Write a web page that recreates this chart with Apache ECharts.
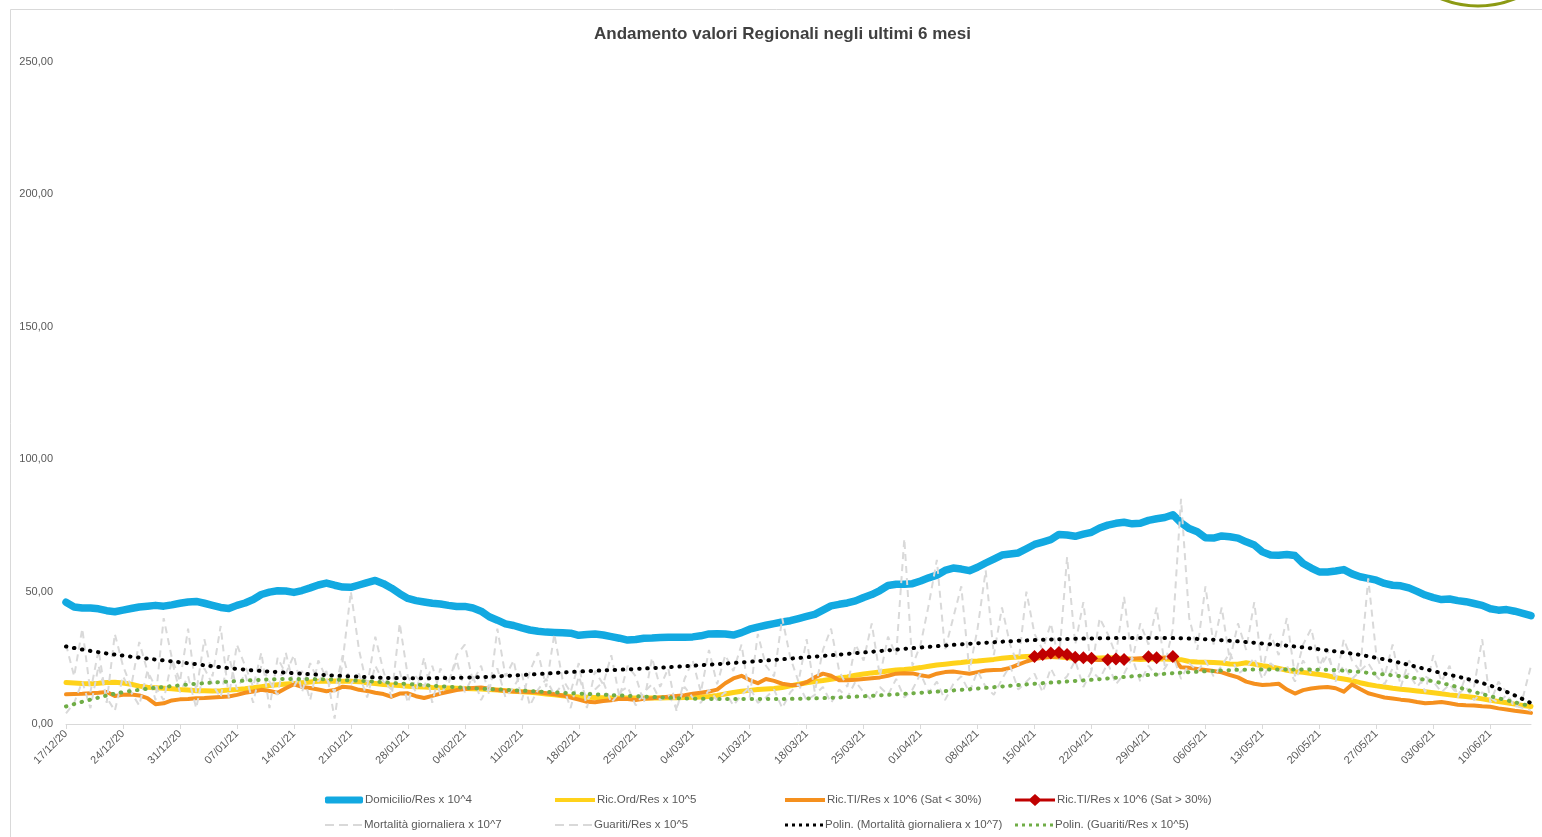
<!DOCTYPE html>
<html>
<head>
<meta charset="utf-8">
<title>Andamento valori Regionali negli ultimi 6 mesi</title>
<script src="https://cdn.jsdelivr.net/npm/echarts@6.0.0/dist/echarts.min.js"></script>
<style>
  html, body { margin: 0; padding: 0; background: #fff; }
  #chart { width: 1542px; height: 837px; }
</style>
</head>
<body>
<div id="chart"></div>
<script>
// giorni: dal 17/12/20, 181 giorni consecutivi
const startDate = new Date(2020, 11, 17)
const dayCount = 181
const days = []
for (let i = 0; i < dayCount; i++) {
  const d = new Date(startDate.getFullYear(), startDate.getMonth(), startDate.getDate() + i)
  const dd = String(d.getDate()).padStart(2, '0')
  const mm = String(d.getMonth() + 1).padStart(2, '0')
  const yy = String(d.getFullYear()).slice(2)
  days.push(dd + '/' + mm + '/' + yy)
}

const yTicks = [0, 50, 100, 150, 200, 250]

const domicilio = [
  46.0, 44.2, 43.8, 43.8, 43.5, 42.8, 42.4, 43.0, 43.6, 44.2,
  44.5, 44.8, 44.5, 45.0, 45.6, 46.1, 46.3, 45.6, 44.8, 44.0,
  43.6, 44.8, 45.7, 47.0, 48.9, 49.8, 50.3, 50.2, 49.7, 50.4,
  51.4, 52.5, 53.2, 52.4, 51.7, 51.6, 52.5, 53.4, 54.2, 53.0,
  51.3, 49.2, 47.4, 46.6, 46.1, 45.6, 45.3, 44.8, 44.4, 44.4,
  43.8, 42.6, 40.5, 39.2, 37.8, 37.2, 36.3, 35.5, 35.0, 34.7,
  34.6, 34.5, 34.3, 33.5, 33.8, 34.0, 33.6, 33.0, 32.4, 31.7,
  31.9, 32.4, 32.5, 32.7, 32.8, 32.8, 32.8, 32.9, 33.3, 34.0,
  34.1, 34.0, 33.6, 34.5, 35.8, 36.6, 37.3, 37.9, 38.5, 39.0,
  39.8, 40.6, 41.4, 43.0, 44.6, 45.2, 45.7, 46.5, 47.8, 48.9,
  50.4, 52.3, 52.8, 52.8, 53.0, 54.0, 55.2, 56.2, 58.0, 58.9,
  58.5, 57.9, 59.2, 60.8, 62.3, 63.8, 64.2, 64.6, 66.2, 67.8,
  68.7, 69.6, 71.6, 71.4, 70.9, 71.7, 72.4, 74.0, 75.1, 75.8,
  76.2, 75.6, 75.8, 76.9, 77.5, 78.0, 79.0, 76.0, 73.8, 72.6,
  70.3, 70.2, 71.0, 70.7, 70.2, 68.8, 67.6, 65.0, 63.8, 63.7,
  64.0, 63.6, 60.6, 58.9, 57.4, 57.4, 57.8, 58.3, 56.7, 55.6,
  55.0, 54.3, 53.1, 52.4, 52.2, 51.4, 50.1, 48.7, 47.7, 47.0,
  47.2, 46.6, 46.2, 45.5, 44.8, 43.5, 43.0, 43.2, 42.6, 41.8,
  40.9
]

const ricOrd = [
  15.7, 15.5, 15.3, 15.2, 15.4, 15.7, 15.8, 15.5, 15.0, 14.3,
  13.9, 13.7, 13.5, 13.3, 13.0, 12.8, 12.6, 12.6, 12.5, 12.6,
  12.8, 13.0, 13.3, 13.7, 14.1, 14.5, 14.8, 15.1, 15.3, 15.6,
  15.9, 16.1, 16.1, 16.2, 16.1, 16.1, 16.0, 15.6, 15.3, 14.9,
  14.7, 14.5, 14.3, 14.1, 14.0, 13.8, 13.7, 13.6, 13.5, 13.4,
  13.3, 13.2, 13.0, 12.8, 12.6, 12.4, 12.2, 12.0, 11.7, 11.3,
  11.0, 10.7, 10.4, 10.2, 10.1, 10.0, 9.9, 9.8, 9.8, 9.8,
  9.8, 9.8, 9.8, 9.8, 9.9, 9.9, 10.0, 10.1, 10.2, 10.4,
  10.8, 11.3, 11.9, 12.4, 12.7, 13.0, 13.2, 13.4, 13.8, 14.4,
  15.0, 15.6, 16.0, 16.4, 16.9, 17.4, 17.8, 18.4, 18.9, 19.3,
  19.6, 20.0, 20.4, 20.6, 20.9, 21.3, 21.8, 22.3, 22.6, 22.9,
  23.2, 23.6, 23.8, 24.1, 24.4, 24.8, 25.1, 25.3, 25.5, 25.6,
  25.6, 25.5, 25.3, 25.0, 24.8, 24.7, 24.8, 24.9, 25.0, 24.9,
  24.7, 24.5, 24.4, 24.5, 24.6, 24.5, 24.4, 24.3, 23.6, 23.4,
  23.3, 23.2, 23.0, 22.7, 22.6, 23.1, 22.6, 22.0, 21.6, 21.0,
  20.3, 19.8, 19.5, 19.1, 18.7, 18.2, 17.5, 17.0, 16.4, 15.6,
  14.9, 14.4, 14.0, 13.5, 13.1, 12.8, 12.5, 12.2, 11.8, 11.4,
  11.0, 10.7, 10.4, 10.0, 9.5, 9.0, 8.5, 8.0, 7.5, 7.0,
  6.6
]

const ricTiLow = [
  11.2, 11.3, 11.4, 11.6, 11.8, 12.1, 10.6, 11.0, 11.1, 10.8,
  9.8, 7.5, 7.8, 8.9, 9.3, 9.4, 9.7, 9.8, 10.0, 10.2,
  10.4, 11.0, 11.8, 12.3, 12.9, 12.5, 11.8, 13.5, 15.0, 14.0,
  13.6, 13.0, 12.4, 12.8, 14.1, 13.8, 12.9, 12.5, 11.8, 11.3,
  10.3, 11.5, 11.6, 10.5, 9.8, 10.6, 11.5, 12.2, 12.8, 13.2,
  13.6, 13.8, 13.3, 12.8, 12.6, 12.3, 12.2, 12.1, 12.0, 11.6,
  11.2, 10.8, 10.0, 9.2, 8.4, 8.2, 8.7, 9.0, 9.5, 9.4,
  9.1, 9.5, 9.7, 10.0, 10.3, 10.6, 10.9, 11.4, 11.8, 12.3,
  13.0, 15.4, 17.2, 18.2, 16.6, 15.4, 17.0, 16.3, 15.2, 14.7,
  14.7, 15.8, 17.6, 19.0, 18.2, 16.5, 16.5, 16.7, 17.0, 17.3,
  17.6, 18.2, 19.0, 19.2, 19.1, 18.4, 17.9, 19.0, 19.6, 19.8,
  19.4, 19.0, 19.6, 20.2, 20.4, 20.5, 21.2, 22.4, 23.6, 24.5,
  25.0, 25.3, 25.5, 25.2, 24.8, 24.5, 24.3, 24.2, 24.4, 24.6,
  24.5, 24.6, 24.8, 24.9, 25.0, 25.1, 25.0, 21.4, 21.2, 20.8,
  20.4, 20.0, 19.5, 18.5, 17.6, 16.0, 15.2, 14.7, 14.9, 15.2,
  13.0, 11.5, 12.8, 13.4, 13.8, 14.0, 13.5, 12.2, 14.9, 13.2,
  11.6, 10.8, 10.0, 9.6, 9.2, 8.9, 8.3, 7.8, 8.0, 8.3,
  7.8, 7.3, 7.1, 7.0, 6.7, 6.5, 5.9, 5.5, 5.0, 4.6,
  4.2
]

// Sat > 30%: solo dal 15/04 al 02/05, con buchi
const ricTiHighDays = [119, 120, 121, 122, 123, 124, 125, 126, 128, 129, 130, 133, 134, 136]
const ricTiHighVals = [25.5, 26.2, 26.8, 27.0, 26.2, 25.2, 25.0, 24.8, 24.3, 24.5, 24.4, 25.4, 25.0, 25.5]

const mortalita = [
  30, 18, 36, 12, 28, 8, 34, 22, 14, 31,
  20, 9, 40, 25, 16, 36, 12, 32, 18, 37,
  10, 30, 22, 14, 27, 6, 25, 19, 26, 12,
  23, 16, 20, 2, 24, 50, 28, 14, 33, 20,
  10, 38, 18, 12, 25, 8, 21, 15, 26, 30,
  16, 22, 11, 36, 18, 24, 9, 20, 27, 14,
  34, 17, 12, 23, 6, 20, 15, 26, 10, 22,
  18, 8, 25, 14, 21, 5, 17, 24, 12, 28,
  15, 26, 20, 30, 10, 34, 22, 18, 40, 25,
  16, 32, 12, 28, 36, 20, 14, 30, 24, 38,
  18, 33, 26, 70, 22, 30, 45, 62, 28, 40,
  52, 20, 36, 58, 26, 44, 30, 22, 50, 34,
  28, 38, 24, 63, 30, 46, 20, 40, 34, 26,
  48, 24, 38, 30, 44, 22, 36, 85, 40, 28,
  52, 30, 44, 24, 38, 28, 46, 20, 34, 26,
  40, 18, 30, 36, 22, 28, 16, 32, 24, 20,
  55, 26, 18, 30, 14, 24, 20, 12, 26, 16,
  22, 10, 18, 14, 32, 8, 16, 12, 6, 10,
  22
]

const guariti = [
  4, 8, 16, 6, 22, 10, 5, 18, 12, 7,
  20, 14, 9, 24, 12, 18, 6, 21, 15, 10,
  26, 13, 19, 8, 22, 16, 11, 27, 14, 20,
  9, 24, 17, 12, 26, 15, 19, 10, 22, 16,
  13, 20, 8, 18, 14, 22, 11, 16, 24, 12,
  18, 9, 15, 21, 10, 14, 19, 7, 13, 17,
  11, 15, 6, 18, 9, 13, 16, 8, 12, 14,
  7, 12, 15, 9, 11, 6, 14, 10, 8, 13,
  9, 12, 7, 11, 14, 8, 10, 13, 6, 12,
  15, 9, 11, 14, 8, 13, 10, 16, 12, 9,
  14, 11, 17, 10, 13, 19, 12, 16, 9, 15,
  18, 12, 20, 14, 11, 17, 22, 13, 16, 19,
  12, 21, 15, 18, 24, 14, 20, 17, 23, 15,
  19, 25, 16, 22, 18, 21, 26, 17, 23, 20,
  24, 18, 22, 27, 19, 21, 25, 17, 23, 20,
  22, 16, 24, 19, 21, 26, 18, 22, 17, 20,
  23, 18, 15, 21, 17, 19, 14, 18, 16, 12,
  15, 11, 14, 9, 12, 10, 8, 11, 7, 6,
  5
]

// linee di tendenza polinomiali, a cadenza settimanale
const trendDays = [0, 3, 7, 14, 21, 28, 35, 42, 49, 56, 63, 70, 77, 84, 91, 98, 105, 112, 119, 126, 133, 140, 147, 154, 161, 168, 175, 180]
const trendMort = [29.3, 27.6, 25.8, 23.3, 20.8, 19.2, 18.0, 17.3, 17.5, 18.5, 19.8, 20.8, 22.0, 23.5, 25.2, 27.0, 28.9, 30.5, 31.7, 32.3, 32.5, 32.0, 30.4, 28.2, 25.0, 20.0, 14.5, 7.9]
const trendGuar = [6.6, 9.2, 12.0, 14.6, 16.2, 17.0, 16.5, 15.1, 13.7, 12.6, 11.5, 10.5, 9.6, 9.4, 9.6, 10.5, 11.8, 13.4, 15.2, 16.7, 18.5, 19.9, 20.6, 20.5, 19.0, 16.1, 10.5, 6.7]

const NAMES = [
  'Domicilio/Res x 10^4',
  'Ric.Ord/Res x 10^5',
  'Ric.TI/Res x 10^6 (Sat < 30%)',
  'Ric.TI/Res x 10^6 (Sat > 30%)',
  'Mortalità giornaliera x 10^7',
  'Guariti/Res x 10^5',
  'Polin. (Mortalità giornaliera x 10^7)',
  'Polin. (Guariti/Res x 10^5)'
]

const COLORS = {
  blue: '#12A9E1',
  yellow: '#FFD21A',
  orange: '#F5901E',
  red: '#C00000',
  gray: '#D9D9D9',
  black: '#000000',
  green: '#70AD47'
}

function sparse (idx, vals) {
  const out = new Array(dayCount).fill(null)
  idx.forEach((d, i) => { out[d] = vals[i] })
  return out
}

const FONT = "'Liberation Sans', 'DejaVu Sans', sans-serif"
const TXT = '#595959'

function legendOne (name, icon, w, h, color, left, top) {
  return {
    left: left,
    top: top,
    padding: 0,
    itemWidth: w,
    itemHeight: h,
    itemGap: 0,
    selectedMode: false,
    textStyle: { color: TXT, fontSize: 11.5, fontFamily: FONT, padding: [0, 0, 0, -3] },
    data: [{ name: name, icon: icon, itemStyle: { color: color, borderWidth: 0 } }]
  }
}

const ICON_DASH = 'path://M0,0h9v2h-9z M14,0h9v2h-9z M28,0h9v2h-9z'
const ICON_DOT = 'path://M0,0h3v3h-3z M7,0h3v3h-3z M14,0h3v3h-3z M21,0h3v3h-3z M28,0h3v3h-3z M35,0h3v3h-3z'
const ICON_DIAMOND = 'path://M0,4.5H15L20,0L25,4.5H40V7.5H25L20,12L15,7.5H0Z'

const row1 = 794
const row2 = 819

const chart = echarts.init(document.getElementById('chart'))

const option = {
  animation: false,
  backgroundColor: '#ffffff',
  title: {
    text: 'Andamento valori Regionali negli ultimi 6 mesi',
    left: 589,
    top: 21,
    textStyle: { color: '#404040', fontSize: 17, fontWeight: 'bold', fontFamily: FONT }
  },
  graphic: [
    {
      type: 'rect',
      shape: { x: 10.5, y: 9.5, width: 1540, height: 840 },
      style: { fill: 'none', stroke: '#D9D9D9', lineWidth: 1 },
      silent: true
    },
    {
      type: 'circle',
      shape: { cx: 1478, cy: -92, r: 98 },
      style: { fill: 'none', stroke: '#8C9A14', lineWidth: 3 },
      silent: true
    }
  ],
  legend: [
    legendOne(NAMES[0], 'roundRect', 38, 7, COLORS.blue, 325, row1),
    legendOne(NAMES[1], 'rect', 40, 4, COLORS.yellow, 555, row1),
    legendOne(NAMES[2], 'rect', 40, 4, COLORS.orange, 785, row1),
    legendOne(NAMES[3], ICON_DIAMOND, 40, 12, COLORS.red, 1015, row1),
    legendOne(NAMES[4], ICON_DASH, 37, 2, COLORS.gray, 325, row2),
    legendOne(NAMES[5], ICON_DASH, 37, 2, COLORS.gray, 555, row2),
    legendOne(NAMES[6], ICON_DOT, 38, 3.5, COLORS.black, 785, row2),
    legendOne(NAMES[7], ICON_DOT, 38, 3.5, COLORS.green, 1015, row2)
  ],
  grid: {
    left: 66,
    right: 11,
    top: 62,
    bottom: 113
  },
  xAxis: {
    type: 'category',
    data: days,
    boundaryGap: false,
    axisLine: { lineStyle: { color: '#D9D9D9', width: 1 } },
    axisTick: { interval: 6, length: 5, lineStyle: { color: '#D9D9D9' } },
    axisLabel: {
      interval: 6,
      rotate: 45,
      margin: 8,
      color: TXT,
      fontSize: 11,
      fontFamily: FONT
    },
    splitLine: { show: false }
  },
  yAxis: {
    type: 'value',
    min: yTicks[0],
    max: yTicks[yTicks.length - 1],
    interval: 50,
    axisLine: { show: false },
    axisTick: { show: false },
    splitLine: { show: false },
    axisLabel: {
      margin: 13,
      color: TXT,
      fontSize: 11,
      fontFamily: FONT,
      formatter: (v) => v.toFixed(2).replace('.', ',')
    }
  },
  series: [
    {
      name: NAMES[0],
      type: 'line',
      data: domicilio,
      symbol: 'none',
      itemStyle: { color: COLORS.blue },
      lineStyle: { color: COLORS.blue, width: 7.5, cap: 'round', join: 'round' }
    },
    {
      name: NAMES[1],
      type: 'line',
      data: ricOrd,
      symbol: 'none',
      itemStyle: { color: COLORS.yellow },
      lineStyle: { color: COLORS.yellow, width: 5, cap: 'round', join: 'round' }
    },
    {
      name: NAMES[2],
      type: 'line',
      data: ricTiLow,
      symbol: 'none',
      itemStyle: { color: COLORS.orange },
      lineStyle: { color: COLORS.orange, width: 4, cap: 'round', join: 'round' }
    },
    {
      name: NAMES[3],
      type: 'line',
      data: sparse(ricTiHighDays, ricTiHighVals),
      symbol: 'diamond',
      symbolSize: 13,
      showSymbol: true,
      showAllSymbol: true,
      connectNulls: false,
      itemStyle: { color: COLORS.red },
      lineStyle: { color: COLORS.red, width: 4 }
    },
    {
      name: NAMES[4],
      type: 'line',
      data: mortalita,
      symbol: 'none',
      itemStyle: { color: COLORS.gray },
      lineStyle: { color: COLORS.gray, width: 2, type: [7, 5] }
    },
    {
      name: NAMES[5],
      type: 'line',
      data: guariti,
      symbol: 'none',
      itemStyle: { color: COLORS.gray },
      lineStyle: { color: COLORS.gray, width: 2, type: [7, 5] }
    },
    {
      name: NAMES[6],
      type: 'line',
      data: sparse(trendDays, trendMort),
      symbol: 'none',
      smooth: 0.4,
      connectNulls: true,
      itemStyle: { color: COLORS.black },
      lineStyle: { color: COLORS.black, width: 4, type: [0.5, 7.6], cap: 'round' }
    },
    {
      name: NAMES[7],
      type: 'line',
      data: sparse(trendDays, trendGuar),
      symbol: 'none',
      smooth: 0.4,
      connectNulls: true,
      itemStyle: { color: COLORS.green },
      lineStyle: { color: COLORS.green, width: 4, type: [0.5, 7.6], cap: 'round' }
    }
  ]
}

chart.setOption(option)
</script>
</body>
</html>
